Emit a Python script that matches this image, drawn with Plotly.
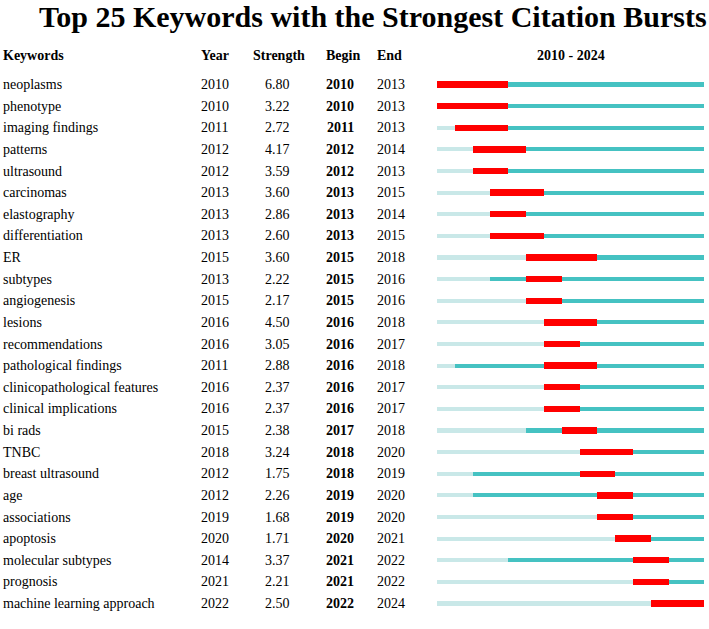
import plotly.graph_objects as go

keywords = ["neoplasms", "phenotype", "imaging findings", "patterns", "ultrasound",
            "carcinomas", "elastography", "differentiation", "ER", "subtypes",
            "angiogenesis", "lesions", "recommendations", "pathological findings",
            "clinicopathological features", "clinical implications", "bi rads", "TNBC",
            "breast ultrasound", "age", "associations", "apoptosis", "molecular subtypes",
            "prognosis", "machine learning approach"]
years = [2010, 2010, 2011, 2012, 2012, 2013, 2013, 2013, 2015, 2013, 2015, 2016, 2016,
         2011, 2016, 2016, 2015, 2018, 2012, 2012, 2019, 2020, 2014, 2021, 2022]
strengths = [6.80, 3.22, 2.72, 4.17, 3.59, 3.60, 2.86, 2.60, 3.60, 2.22, 2.17, 4.50, 3.05,
             2.88, 2.37, 2.37, 2.38, 3.24, 1.75, 2.26, 1.68, 1.71, 3.37, 2.21, 2.50]
begins = [2010, 2010, 2011, 2012, 2012, 2013, 2013, 2013, 2015, 2015, 2015, 2016, 2016,
          2016, 2016, 2016, 2017, 2018, 2018, 2019, 2019, 2020, 2021, 2021, 2022]
ends = [2013, 2013, 2013, 2014, 2013, 2015, 2014, 2015, 2018, 2016, 2016, 2018, 2017,
        2018, 2017, 2017, 2018, 2020, 2019, 2020, 2020, 2021, 2022, 2022, 2024]
start_year = 2010
end_year = 2024

rows = list(range(len(keywords)))
W, H = 709, 629

fig = go.Figure()
fig.add_trace(go.Bar(orientation="h", y=rows, base=[start_year] * len(rows),
                     x=[y - start_year for y in years], width=0.19,
                     marker=dict(color="#c9e8e8", line=dict(width=0)), hoverinfo="skip"))
fig.add_trace(go.Bar(orientation="h", y=rows, base=years,
                     x=[end_year + 1 - y for y in years], width=0.19,
                     marker=dict(color="#45c2c2", line=dict(width=0)), hoverinfo="skip"))
fig.add_trace(go.Bar(orientation="h", y=rows, base=begins,
                     x=[e + 1 - b for b, e in zip(begins, ends)], width=0.3,
                     marker=dict(color="#ff0000", line=dict(width=0)), hoverinfo="skip"))

serif = "Liberation Serif, Times New Roman, serif"
ann = []
def A(x, y, text, anchor="left", bold=False, size=14):
    ann.append(dict(x=x / W, y=y, xref="paper", yref="y",
                    text=f"<b>{text}</b>" if bold else text,
                    showarrow=False, xanchor=anchor, yanchor="middle",
                    font=dict(family=serif, size=size, color="black")))

head_row = -1.35
A(1, head_row, "Keywords", bold=True)
A(199, head_row, "Year", bold=True)
A(251, head_row, "Strength", bold=True)
A(324, head_row, "Begin", bold=True)
A(375, head_row, "End", bold=True)
A(571, head_row, f"{start_year} - {end_year}", anchor="center", bold=True)

for i in rows:
    A(1, i, keywords[i])
    A(199, i, str(years[i]))
    A(277, i, f"{strengths[i]:.2f}", anchor="center")
    A(340, i, str(begins[i]), anchor="center", bold=True)
    A(375, i, str(ends[i]))

ann.append(dict(x=373 / W, y=1 - 16 / H, xref="paper", yref="paper",
                yanchor="middle", xanchor="center",
                text="<b>Top 25 Keywords with the Strongest Citation Bursts</b>", showarrow=False,
                font=dict(family=serif, size=30, color="black")))

px0, pxyr = 437.0, 17.83
y0px, rowpx = 84.5, 21.625
fig.update_layout(
    width=W, height=H, margin=dict(l=0, r=0, t=0, b=0),
    paper_bgcolor="white", plot_bgcolor="white", barmode="overlay", bargap=0,
    showlegend=False, annotations=ann,
    xaxis=dict(range=[start_year - px0 / pxyr, start_year + (W - px0) / pxyr],
               visible=False, fixedrange=True),
    yaxis=dict(range=[(H - y0px) / rowpx, -y0px / rowpx], visible=False, fixedrange=True),
)
fig.write_html("out.html", config={"displayModeBar": False},
               post_script="document.body.style.margin='0';document.body.style.overflow='hidden';")
